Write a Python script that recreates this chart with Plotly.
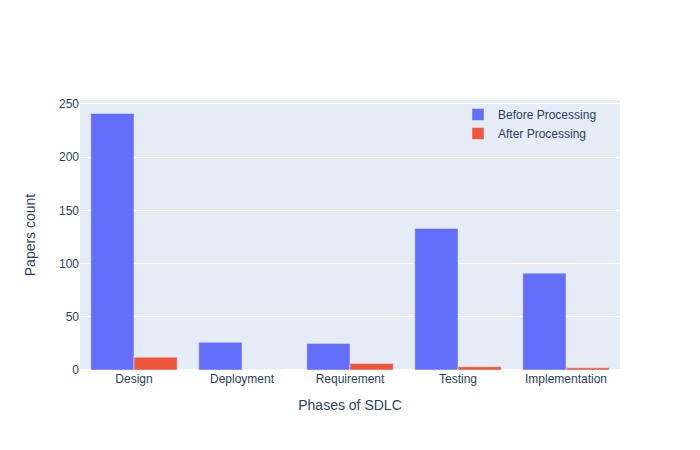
import plotly.graph_objs as go

# Phases du SDLC et nombre d'articles
phases = ['Design', 'Deployment', 'Requirement', 'Testing', 'Implementation']
before_counts = [241, 26, 25, 133, 91]
after_counts = [12, 0, 6, 3, 2]

fig = go.Figure()
fig.add_trace(go.Bar(x=phases, y=before_counts, name='Before Processing'))
fig.add_trace(go.Bar(x=phases, y=after_counts, name='After Processing'))

# marges ajustées pour compenser la marge de 8px du body
fig.update_layout(barmode='group',
                  font=dict(family='Arial'),
                  margin=dict(l=72, r=72, t=92, b=72),
                  xaxis=dict(title='Phases of SDLC'),
                  yaxis=dict(title=dict(text='Papers count', standoff=20),
                             automargin=True),
                  legend=dict(x=0.70, y=1.0, bgcolor='rgba(0,0,0,0)'))

fig.write_html("out.html")
